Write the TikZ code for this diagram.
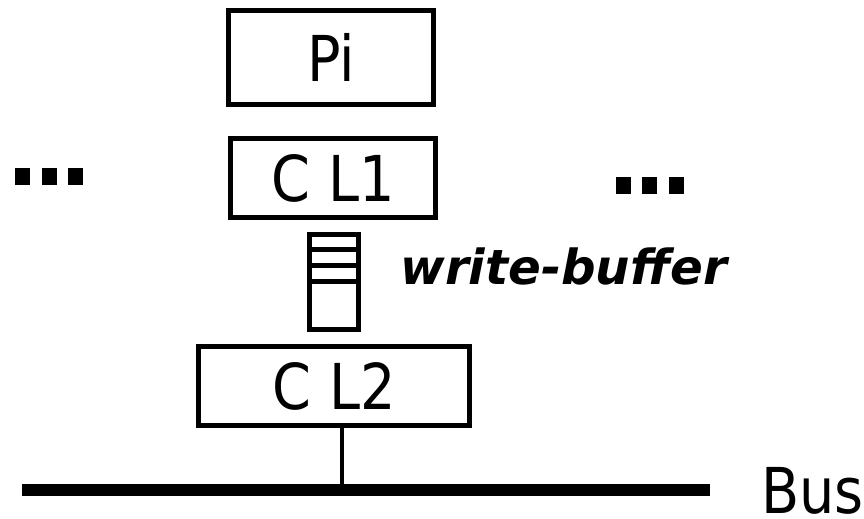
\documentclass[tikz,border=0pt]{standalone}
\usepackage{fontspec}
\setmainfont{DejaVu Sans}[FakeStretch=0.88]
\newfontfamily\wbfont{DejaVu Sans}

\tikzset{
  unit/.style={draw, line width=2.8pt, inner sep=0pt,
    font=\fontsize{36}{40}\selectfont},
  wbuf/.style={draw, line width=2.9pt, inner sep=0pt,
    minimum width=9.8mm, minimum height=19mm},
}

\begin{document}
\begin{tikzpicture}[x=0.2mm, y=-0.2mm]
  \useasboundingbox (0,0) rectangle (864,519);

  % processor and its caches
  \node[unit, minimum width=41.1mm, minimum height=18.9mm] (pi) at (331,57.5) {Pi};
  \node[unit, minimum width=41.1mm, minimum height=15.9mm] (cl1) at (333,178) {C L1};
  \node[unit, minimum width=54.3mm, minimum height=15.9mm] (cl2) at (334,386) {C L2};

  % write buffer between L1 and L2
  \node[wbuf] (buf) at (334,282) {};
  \foreach \y in {249.5,265.5,281.5}
    \draw[line width=2.9pt] (buf.west |- 0,\y) -- (buf.east |- 0,\y);
  \node[anchor=base west, inner sep=0pt,
    font=\wbfont\fontsize{27.5}{30}\selectfont\bfseries\itshape] (wlabel) at (400,285) {write-buffer};

  % other processors
  \foreach \x in {15,42,68}
    \fill (\x,168) rectangle +(15,17);
  \foreach \x in {616,642,669}
    \fill (\x,177) rectangle +(15,17);

  % bus
  \coordinate (busl) at (22,490);
  \coordinate (busr) at (710,490);
  \coordinate (tap) at (342,490);
  \draw[line width=6.8pt] (busl) -- (busr);
  \draw[line width=2.3pt] (cl2.south -| tap) -- (tap);
  \node[anchor=base west, inner sep=0pt, font=\fontsize{36}{40}\selectfont] (bus) at (761,513) {Bus};
\end{tikzpicture}
\end{document}
